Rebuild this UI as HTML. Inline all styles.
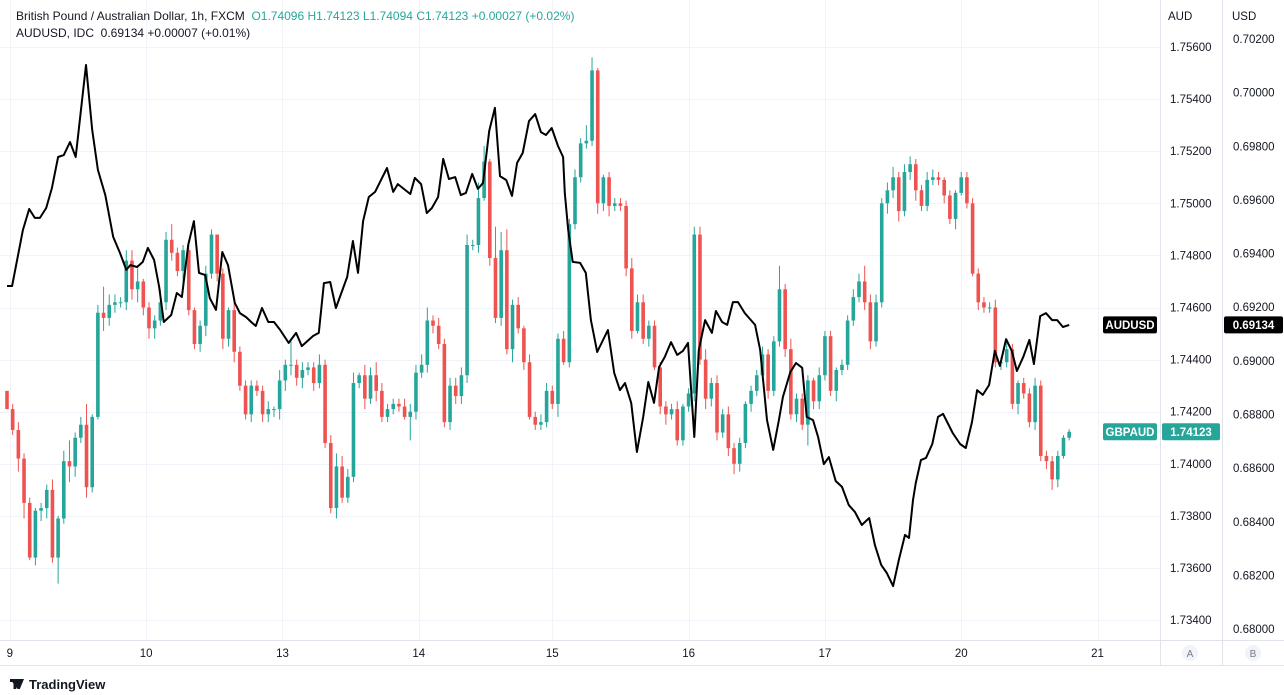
<!DOCTYPE html>
<html><head><meta charset="utf-8">
<style>
body{margin:0;width:1284px;height:695px;background:#fff;overflow:hidden;font-family:"Liberation Sans",sans-serif;}
#wrap{position:relative;width:1284px;height:695px;}
.hdr{position:absolute;left:16px;font-size:12px;color:#131722;white-space:nowrap;}
.g{color:#26a69a}
.ax{position:absolute;font-size:11.5px;color:#131722;}
</style></head><body>
<div id="wrap">
<svg id="chart" width="1284" height="695" style="position:absolute;left:0;top:0"></svg>
<div class="hdr" style="top:9px">British Pound / Australian Dollar, 1h, FXCM&nbsp; <span class="g">O</span><span class="g">1.74096</span> <span class="g">H1.74123</span> <span class="g">L1.74094</span> <span class="g">C1.74123</span> <span class="g">+0.00027 (+0.02%)</span></div>
<div class="hdr" style="top:26px">AUDUSD, IDC&nbsp; 0.69134 +0.00007 (+0.01%)</div>
<div style="position:absolute;left:10px;top:677px;font-size:13px;color:#131722;font-weight:bold"><span style="display:inline-block;width:14px;height:10px;background:#131722;margin-right:5px;clip-path:polygon(0 0,45% 0,45% 100%,25% 100%,25% 30%,0 30%,0 0,55% 0,75% 0,100% 0,70% 100%,55% 100%)"></span>TradingView</div>
</div>
<script>
const closes=[1.7421,1.7413,1.7402,1.7385,1.7364,1.7382,1.7383,1.7390,1.7364,1.7379,
1.7401,1.7399,1.7410,1.7415,1.7391,1.7418,1.7458,1.7456,1.7461,1.7462,
1.7462,1.7478,1.7467,1.7470,1.7460,1.7452,1.7455,1.7462,1.7486,1.7481,
1.7474,1.7482,1.7459,1.7446,1.7453,1.7473,1.7488,1.7473,1.7448,1.7459,
1.7443,1.7430,1.7419,1.7430,1.7428,1.7419,1.7421,1.7421,1.7432,1.7438,
1.7438,1.7433,1.7436,1.7437,1.7431,1.7438,1.7408,1.7383,1.7399,1.7387,
1.7395,1.7431,1.7434,1.7425,1.7434,1.7428,1.7418,1.7421,1.7423,1.7422,
1.7418,1.7420,1.7435,1.7438,1.7455,1.7453,1.7446,1.7416,1.7430,1.7426,
1.7434,1.7484,1.7484,1.7502,1.7516,1.7479,1.7456,1.7482,1.7444,1.7461,
1.7452,1.7439,1.7418,1.7415,1.7416,1.7428,1.7423,1.7448,1.7439,1.7492,
1.7510,1.7523,1.7524,1.7551,1.7500,1.7510,1.7499,1.7500,1.7499,1.7475,
1.7451,1.7462,1.7448,1.7453,1.7437,1.7422,1.7419,1.7421,1.7409,1.7422,
1.7427,1.7488,1.7440,1.7425,1.7431,1.7412,1.7419,1.7406,1.7400,1.7408,
1.7423,1.7428,1.7434,1.7442,1.7428,1.7447,1.7467,1.7444,1.7419,1.7425,
1.7415,1.7432,1.7424,1.7434,1.7449,1.7428,1.7436,1.7438,1.7455,
1.7464,1.7470,1.7462,1.7447,1.7462,1.7500,1.7505,1.7510,1.7497,1.7512,
1.7515,1.7505,1.7499,1.7509,1.7510,1.7509,1.7503,1.7494,1.7504,1.7510,
1.7500,1.7473,1.7462,1.7460,1.7460,1.7439,1.7439,1.7444,1.7423,1.7431,
1.7427,1.7416,1.7430,1.7403,1.7401,1.7394,1.7403,1.7410,1.74123];
const firstOpen=1.7428;
const wickUp=[0,2,3,2,2,1,2,2,4,1,4,8,2,3,8,1,3,10,4,3,2,4,4,5,1,2,2,5,3,6,2,2,4,1,2,3,2,0,2,1,3,2,2,2,2,2,3,1,4,2,
9,2,3,2,2,4,2,3,5,4,3,4,1,4,3,5,3,2,2,2,3,3,3,4,5,2,3,2,3,3,3,4,2,6,6,1,12,7,8,2,3,1,3,2,3,3,2,2,3,2,
3,2,6,5,1,1,2,2,2,2,4,3,3,2,2,2,2,2,3,1,2,3,3,4,2,3,2,3,2,2,1,2,2,3,2,2,9,2,4,2,2,2,1,3,2,2,1,2,2,
3,3,6,3,3,2,3,4,2,3,3,2,2,3,3,2,1,2,1,2,2,2,2,2,2,3,2,3,2,1,2,2,3,2,2,2,2,1,1];
const wickDn=[0,2,5,6,1,3,4,4,2,10,2,6,4,2,4,2,1,5,3,3,2,3,4,5,3,4,4,2,3,3,2,5,2,2,3,4,2,3,4,3,4,2,2,3,2,3,3,3,4,4,
4,3,4,2,3,2,2,2,4,2,2,2,2,4,2,4,2,2,2,2,1,9,3,2,3,3,2,2,3,3,3,3,2,3,1,3,2,3,2,5,2,3,1,2,2,2,2,5,1,2,
2,2,2,2,4,3,4,2,2,3,3,1,2,3,1,3,4,2,2,2,2,3,2,4,3,3,2,3,4,3,2,3,2,2,3,2,2,3,2,3,2,8,3,3,2,2,4,2,2,
2,2,3,3,2,2,4,3,4,2,3,4,2,2,2,2,3,2,4,1,2,1,3,2,2,2,3,2,2,4,2,2,3,2,3,4,3,1,1];
const audT=[0,0.9,2.8,3.9,4.9,5.8,6.9,7.9,9,10,11.1,12.1,13.9,15,16,17.3,18.7,19.9,21,21.7,22.9,23.9,24.8,25.9,26.8,27.6,28.9,29.9,30.8,31.9,32.9,33.8,34.9,35.7,36.8,37.9,38.9,40.1,41,42.1,43,43.8,44.9,46,47,48.1,49.6,50.9,51.9,53.9,54.9,55.8,56.9,57.9,59.9,60.9,61.8,62.7,63.7,64.8,66.9,68,68.8,71,71.8,72.9,73.9,74.8,75.9,76.8,77.8,78.9,79.9,80.8,81.9,82.9,83.8,84.9,85.9,86.8,87.9,88.9,89.8,90.8,91.9,93,94,94.9,95.9,97,97.9,98.2,98.8,99.6,100.9,101.9,102.8,103.9,105.8,106.9,107.9,108.8,109.9,110.9,112,112.9,113.9,114.8,115.8,116.9,118,119,119.9,121,121.8,122.9,124.1,124.8,125.9,126.8,127.8,128.7,129.9,131.7,132.6,133.8,134.9,135.9,136.6,137.9,138.9,140,140.8,141.9,142.8,143.8,144.7,145.9,147,148.2,149.3,150.5,151.8,152.8,153.9,154.9,156,157,158.1,158.8,159.5,160,160.9,161.8,162.9,163.9,164.8,166.5,167.8,168.8,169.9,170.8,171.8,172.9,173.9,174.8,175.9,176.9,177.8,178.9,180,180.8,181.9,182.9,184,184.9,185.9,187];
const audV=[0.69279,0.69279,0.69488,0.69566,0.69533,0.69533,0.69570,0.69644,0.69760,0.69767,0.69816,0.69760,0.70103,0.69861,0.69712,0.69618,0.69462,0.69402,0.69339,0.69357,0.69350,0.69369,0.69421,0.69376,0.69275,0.69145,0.69171,0.69253,0.69238,0.69432,0.69521,0.69328,0.69320,0.69234,0.69190,0.69406,0.69357,0.69216,0.69178,0.69163,0.69145,0.69130,0.69197,0.69145,0.69145,0.69115,0.69067,0.69104,0.69055,0.69093,0.69104,0.69290,0.69294,0.69197,0.69313,0.69447,0.69328,0.69521,0.69611,0.69630,0.69719,0.69630,0.69659,0.69622,0.69682,0.69659,0.69551,0.69570,0.69611,0.69753,0.69678,0.69685,0.69618,0.69626,0.69697,0.69641,0.69663,0.69857,0.69943,0.69689,0.69674,0.69615,0.69738,0.69775,0.69894,0.69920,0.69853,0.69842,0.69868,0.69801,0.69760,0.69626,0.69488,0.69369,0.69365,0.69328,0.69152,0.69033,0.69115,0.68955,0.68891,0.68917,0.68843,0.68660,0.68791,0.68921,0.68843,0.68977,0.69014,0.69070,0.69022,0.69037,0.69067,0.68716,0.69040,0.69152,0.69104,0.69186,0.69145,0.69134,0.69219,0.69219,0.69178,0.69134,0.69040,0.68779,0.68668,0.68779,0.68865,0.68958,0.68992,0.68974,0.68791,0.68779,0.68716,0.68615,0.68641,0.68552,0.68530,0.68462,0.68436,0.68388,0.68414,0.68313,0.68239,0.68209,0.68160,0.68257,0.68351,0.68340,0.68481,0.68545,0.68630,0.68638,0.68690,0.68791,0.68802,0.68731,0.68690,0.68675,0.68772,0.68891,0.68873,0.68910,0.69037,0.68981,0.69081,0.69037,0.68962,0.69014,0.69078,0.68988,0.69167,0.69178,0.69152,0.69152,0.69126,0.69134];
const audTicks=["1.75600","1.75400","1.75200","1.75000","1.74800","1.74600","1.74400","1.74200","1.74000","1.73800","1.73600","1.73400"];
const usdTicks=["0.70200","0.70000","0.69800","0.69600","0.69400","0.69200","0.69000","0.68800","0.68600","0.68400","0.68200","0.68000"];
const dayLabels=["9","10","13","14","15","16","17","20","21"];
const dayIndex=[0.5,24.5,48.5,72.5,96,120,144,168,192];

const NS="http://www.w3.org/2000/svg";
const svg=document.getElementById('chart');
function xS(i){return 7+i*5.68;}
function yA(v){return 47+(1.7560-v)*26050;}
function yU(v){return 39+(0.7020-v)*26820;}
function mk(tag,attrs,parent){const e=document.createElementNS(NS,tag);for(const k in attrs)e.setAttribute(k,attrs[k]);(parent||svg).appendChild(e);return e;}

// grid
const grid=mk('g',{});


audTicks.forEach(t=>{const y=Math.round(yA(parseFloat(t)))+0.5;mk('line',{x1:0,x2:1160,y1:y,y2:y,stroke:'#f0f3fa','stroke-width':1},grid);});
dayIndex.forEach(d=>{const x=Math.round(xS(d))+0.5;mk('line',{x1:x,x2:x,y1:0,y2:640,stroke:'#f0f3fa','stroke-width':1},grid);});
// borders
mk('line',{x1:1160.5,x2:1160.5,y1:0,y2:665,stroke:'#e0e3eb'});
mk('line',{x1:1222.5,x2:1222.5,y1:0,y2:665,stroke:'#e0e3eb'});
mk('line',{x1:0,x2:1284,y1:640.5,y2:640.5,stroke:'#e0e3eb'});
mk('line',{x1:0,x2:1284,y1:665.5,y2:665.5,stroke:'#e0e3eb'});

// candles
const cg=mk('g',{});


closes.forEach((c,i)=>{
  const o=i===0?firstOpen:closes[i-1];
  const up=c>=o;const col=up?'#26a69a':'#ef5350';
  const hi=Math.max(o,c)+wickUp[i]*0.0001, lo=Math.min(o,c)-wickDn[i]*0.0001;
  const x=xS(i);
  const w=mk('line',{x1:x,x2:x,y1:yA(hi),y2:yA(lo),stroke:col,'stroke-width':1},cg);
  
  
  const yt=yA(Math.max(o,c)),yb=yA(Math.min(o,c));
  const r=mk('rect',{x:x-1.8,y:yt,width:3.6,height:Math.max(1,yb-yt),fill:col},cg);
  
  
});
// audusd line
const pts=audT.map((t,i)=>xS(t).toFixed(1)+','+yU(audV[i]).toFixed(1)).join(' ');
const pl=mk('polyline',{points:pts,fill:'none',stroke:'#000','stroke-width':2,'stroke-linejoin':'round'});



// axis labels
function txt(s,x,y,attrs,name){const t=mk('text',Object.assign({x:x,y:y,'font-size':'11.5','font-family':'Liberation Sans, sans-serif',fill:'#131722'},attrs||{}));t.textContent=s;return t;}
txt('AUD',1168,20,{},'aud-axis-title');
txt('USD',1232,20,{},'usd-axis-title');
audTicks.forEach(t=>txt(t,1170,yA(parseFloat(t))+4,{},'aud-tick-label'));
usdTicks.forEach(t=>txt(t,1233,yU(parseFloat(t))+4,{},'usd-tick-label'));
dayLabels.forEach((d,i)=>txt(d,xS(dayIndex[i]),657,{'text-anchor':'middle'},'time-tick-label'));

// badges
function badge(x,y,w,fill,s,name){const g=mk('g',{});mk('rect',{x:x,y:y,width:w,height:17,rx:2,fill:fill},g);const t=mk('text',{x:x+w/2,y:y+12.5,'text-anchor':'middle','font-size':'11.5','font-weight':'bold','font-family':'Liberation Sans, sans-serif',fill:'#fff'},g);t.textContent=s;}
const ya=yU(audV[audV.length-1]), yg=yA(closes[closes.length-1]);
badge(1103,ya-8.5,54,'#000','AUDUSD','audusd-badge');
badge(1224,ya-8.5,59,'#000','0.69134','audusd-price-badge');
badge(1103,yg-8.5,54,'#26a69a','GBPAUD','gbpaud-badge');
badge(1162,yg-8.5,58,'#26a69a','1.74123','gbpaud-price-badge');
// A/B buttons
[['A',1190],['B',1253]].forEach(([s,x])=>{const g=mk('g',{});mk('circle',{cx:x,cy:653,r:8,fill:'#f0f3fa'},g);const t=mk('text',{x:x,y:657,'text-anchor':'middle','font-size':'10','font-family':'Liberation Sans, sans-serif',fill:'#787b86'},g);t.textContent=s;});
</script>
</body></html>
